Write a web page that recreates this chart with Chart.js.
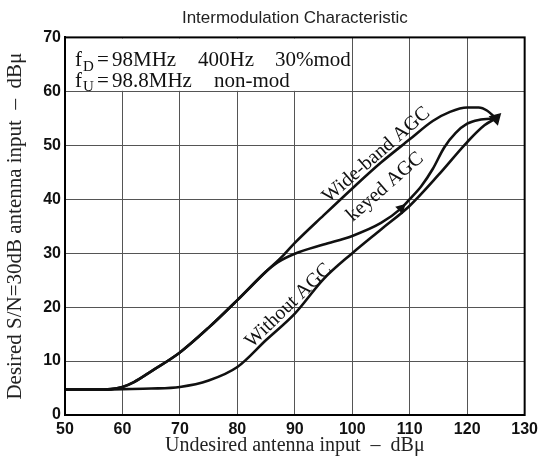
<!DOCTYPE html>
<html>
<head>
<meta charset="utf-8">
<script src="https://cdn.jsdelivr.net/npm/chart.js@4.4.1/dist/chart.umd.min.js"></script>
<style>
  html, body { margin: 0; padding: 0; background: #fff; }
  #wrap { width: 543px; height: 460px; position: relative; }
</style>
</head>
<body>
<div id="wrap"><canvas id="c"></canvas></div>
<script>
// curves (x: undesired input dBu, y: desired input dBu)
var wideX = [50, 55, 58, 60, 62, 65, 70, 75, 80, 85, 88, 90, 95, 100, 105, 110, 114, 117, 120, 122, 123.5, 125];
var wideY = [4.7, 4.7, 4.8, 5.2, 6.1, 8.1, 11.6, 16.2, 21.3, 26.6, 29.6, 31.9, 37.0, 42.0, 46.8, 51.1, 54.5, 56.2, 57.0, 57.0, 56.4, 55.0];

var keyedX = [50, 55, 58, 60, 62, 65, 70, 75, 80, 85, 87, 90, 95, 100, 105, 108.5, 110, 112, 114, 116, 118, 120, 122, 125];
var keyedY = [4.7, 4.7, 4.8, 5.2, 6.1, 8.1, 11.6, 16.2, 21.3, 26.6, 28.3, 29.9, 31.6, 33.2, 35.6, 38.3, 40.0, 42.4, 45.6, 49.6, 52.3, 54.0, 54.7, 55.0];

var withoutX = [50, 55, 60, 65, 70, 75, 80, 85, 90, 95, 100, 105, 110, 115, 120, 123, 125];
var withoutY = [4.7, 4.7, 4.8, 4.9, 5.2, 6.4, 8.9, 13.9, 18.8, 25.2, 30.0, 34.4, 38.8, 44.5, 50.6, 53.7, 55.0];

var xTicks = [50, 60, 70, 80, 90, 100, 110, 120, 130];
var yTicks = [0, 10, 20, 30, 40, 50, 60, 70];

// curve name, label anchor (data coords), angle in degrees
var curveLabels = [
    ['Wide-band AGC', 104.2, 48.2, -41],
    ['keyed AGC', 105.7, 42.3, -41],
    ['Without AGC', 88.9, 20.3, -44]
];

function pts(xs, ys) {
    return xs.map(function (x, i) { return { x: x, y: ys[i] }; });
}

function markAt(xs, at, r) {
    return xs.map(function (x) { return x === at ? r : 0; });
}

var serif = "'Liberation Serif', 'DejaVu Serif', serif";

var notes = {
    id: 'notes',
    beforeDatasetsDraw: function (chart) {
        var ctx = chart.ctx, xs = chart.scales.x, ys = chart.scales.y;
        var x0 = xs.getPixelForValue(50), x1 = xs.getPixelForValue(100);
        var y0 = ys.getPixelForValue(70), y1 = ys.getPixelForValue(60);
        ctx.save();
        ctx.fillStyle = '#fff';
        ctx.fillRect(x0 + 1, y0 + 1, x1 - x0 - 1.5, y1 - y0 - 1.5);
        ctx.fillStyle = '#111';
        ctx.textAlign = 'left';
        ctx.textBaseline = 'alphabetic';

        // f_D = 98MHz  400Hz  30%mod / f_U = 98.8MHz  non-mod
        var b1 = y0 + 29, b2 = y0 + 50;
        ctx.font = '21px ' + serif;
        ctx.fillText('f', x0 + 10, b1);
        ctx.fillText('=', x0 + 32, b1);
        ctx.fillText('98MHz', x0 + 47, b1);
        ctx.fillText('400Hz', x0 + 133, b1);
        ctx.fillText('30%mod', x0 + 210, b1);
        ctx.fillText('f', x0 + 10, b2);
        ctx.fillText('=', x0 + 32, b2);
        ctx.fillText('98.8MHz', x0 + 47, b2);
        ctx.fillText('non-mod', x0 + 149, b2);
        ctx.font = '15px ' + serif;
        ctx.fillText('D', x0 + 18, b1 + 5);
        ctx.fillText('U', x0 + 18, b2 + 4);
        ctx.restore();
    },
    afterDatasetsDraw: function (chart) {
        var ctx = chart.ctx, xs = chart.scales.x, ys = chart.scales.y, a = chart.chartArea;
        ctx.save();
        ctx.fillStyle = '#111';
        ctx.font = '20px ' + serif;
        ctx.textAlign = 'center';
        ctx.textBaseline = 'middle';
        curveLabels.forEach(function (l) {
            ctx.save();
            ctx.translate(xs.getPixelForValue(l[1]), ys.getPixelForValue(l[2]));
            ctx.rotate(l[3] * Math.PI / 180);
            ctx.fillText(l[0], 0, 0);
            ctx.restore();
        });
        ctx.strokeStyle = '#000';
        ctx.lineWidth = 2;
        ctx.strokeRect(a.left, a.top, a.right - a.left, a.bottom - a.top);
        ctx.restore();
    }
};

var lineStyle = {
    borderColor: '#111',
    backgroundColor: '#111',
    borderWidth: 2.6,
    fill: false,
    cubicInterpolationMode: 'monotone',
    pointStyle: 'triangle',
    pointRotation: 45
};

new Chart(document.getElementById('c'), {
    type: 'line',
    data: {
        datasets: [
            Object.assign({ label: 'Wide-band AGC', data: pts(wideX, wideY), pointRadius: markAt(wideX, 125, 5) }, lineStyle),
            Object.assign({ label: 'keyed AGC', data: pts(keyedX, keyedY), pointRadius: markAt(keyedX, 108.5, 3.5) }, lineStyle),
            Object.assign({ label: 'Without AGC', data: pts(withoutX, withoutY), pointRadius: 0 }, lineStyle)
        ]
    },
    options: {
        responsive: true,
        maintainAspectRatio: false,
        animation: false,
        layout: { padding: { left: 0, right: 16, top: 0, bottom: 0 } },
        plugins: {
            legend: { display: false },
            tooltip: { enabled: false },
            title: {
                display: true,
                text: 'Intermodulation Characteristic',
                fullSize: false,
                color: '#222',
                font: { family: "'Liberation Sans', Arial, sans-serif", size: 17, weight: 'normal' },
                padding: { top: 8, bottom: 9 }
            }
        },
        scales: {
            x: {
                type: 'linear',
                min: 50,
                max: 130,
                afterFit: function (s) { s.height = 45; },
                afterBuildTicks: function (s) { s.ticks = xTicks.map(function (v) { return { value: v }; }); },
                grid: { color: '#555', lineWidth: 1, drawTicks: false },
                border: { color: '#000', width: 2 },
                ticks: {
                    padding: 5,
                    color: '#111',
                    maxRotation: 0,
                    font: { family: "'Liberation Sans', Arial, sans-serif", size: 16, weight: 'bold' }
                },
                title: {
                    display: true,
                    text: 'Undesired antenna input  \u2013  dB\u03bc',
                    color: '#222',
                    font: { family: serif, size: 20 },
                    padding: { top: 0, bottom: 2 }
                }
            },
            y: {
                min: 0,
                max: 70,
                afterFit: function (s) { s.width = 65; },
                afterBuildTicks: function (s) { s.ticks = yTicks.map(function (v) { return { value: v }; }); },
                grid: { color: '#555', lineWidth: 1, drawTicks: false },
                border: { color: '#000', width: 2 },
                ticks: {
                    padding: 4,
                    color: '#111',
                    font: { family: "'Liberation Sans', Arial, sans-serif", size: 16, weight: 'bold' }
                },
                title: {
                    display: true,
                    text: 'Desired S/N=30dB antenna input  \u2013  dB\u03bc',
                    color: '#222',
                    font: { family: serif, size: 21 },
                    padding: { top: 3, bottom: 0 }
                }
            }
        }
    },
    plugins: [notes]
});
</script>
</body>
</html>
